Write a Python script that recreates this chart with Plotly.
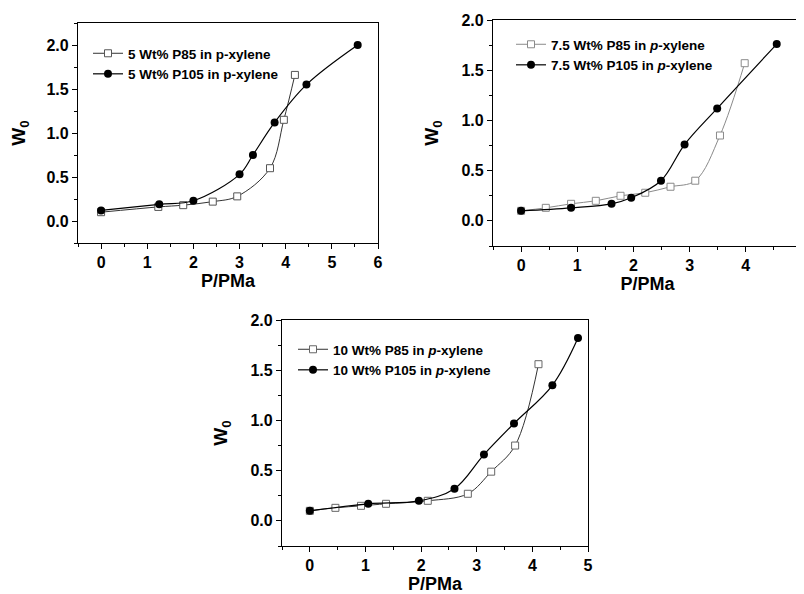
import plotly.graph_objects as go

# ---------------- data ----------------
p1_x85 = [0, 1.24, 1.78, 2.42, 2.95, 3.66, 3.96, 4.2]
p1_y85 = [0.10, 0.16, 0.18, 0.22, 0.28, 0.60, 1.15, 1.66]
p1_x105 = [0, 1.26, 2.0, 3.0, 3.29, 3.76, 4.45, 5.56]
p1_y105 = [0.12, 0.19, 0.23, 0.53, 0.75, 1.12, 1.55, 2.0]

p2_x85 = [0, 0.44, 0.89, 1.33, 1.77, 2.21, 2.66, 3.10, 3.54, 3.98]
p2_y85 = [0.10, 0.13, 0.17, 0.20, 0.25, 0.28, 0.34, 0.40, 0.85, 1.57]
p2_x105 = [0, 0.89, 1.61, 1.96, 2.49, 2.91, 3.49, 4.55]
p2_y105 = [0.10, 0.13, 0.17, 0.23, 0.40, 0.76, 1.12, 1.76]

p3_x85 = [0, 0.46, 0.92, 1.37, 2.12, 2.84, 3.26, 3.69, 4.11]
p3_y85 = [0.10, 0.13, 0.15, 0.17, 0.20, 0.27, 0.49, 0.75, 1.56]
p3_x105 = [0, 1.05, 1.96, 2.60, 3.13, 3.67, 4.36, 4.82]
p3_y105 = [0.10, 0.17, 0.20, 0.32, 0.66, 0.97, 1.35, 1.82]

names = [
    ("5 Wt% P85 in p-xylene", "5 Wt% P105 in p-xylene"),
    ("7.5 Wt% P85 in <i>p</i>-xylene", "7.5 Wt% P105 in <i>p</i>-xylene"),
    ("10 Wt% P85 in <i>p</i>-xylene", "10 Wt% P105 in <i>p</i>-xylene"),
]
x_title = "P/PMa"
y_title = "W<sub>0</sub>"
x_tickvals = [[0, 1, 2, 3, 4, 5, 6], [0, 1, 2, 3, 4, 5], [0, 1, 2, 3, 4, 5]]
y_tickvals = [[0.0, 0.5, 1.0, 1.5, 2.0]] * 3
x_ranges = [[-0.5, 6.0], [-0.5, 5.0], [-0.5, 5.0]]
y_ranges = [[-0.25, 2.25], [-0.25, 2.0], [-0.25, 2.0]]

# page has an 8px body margin -> figure drawn at (8, 8)
OFF = 8
SW, SH = 804, 594
W, H = SW - OFF, SH - OFF
# plot-area boxes in screen pixels (left, right, top, bottom)
boxes = [(78, 378, 23, 243), (493, 802, 20, 246), (282, 588, 320, 546)]
p85_line = ["#333333", "#8a8a8a", "#333333"]
p85_edge = ["#555555", "#8a8a8a", "#666666"]
legend_pos = [(88, 38), (511, 29), (293, 334)]  # screen px, top-left

FONT = "Liberation Sans, Arial, sans-serif"


def px_x(v):
    return (v - OFF) / W


def px_y(v):
    return 1 - (v - OFF) / H


fig = go.Figure()
data = [(p1_x85, p1_y85, p1_x105, p1_y105),
        (p2_x85, p2_y85, p2_x105, p2_y105),
        (p3_x85, p3_y85, p3_x105, p3_y105)]

layout = dict(
    width=W, height=H, margin=dict(l=0, r=0, t=0, b=0, autoexpand=False),
    paper_bgcolor="white", plot_bgcolor="white",
    font=dict(family=FONT, color="black"),
)

for i, (x85, y85, x105, y105) in enumerate(data):
    sfx = "" if i == 0 else str(i + 1)
    xa, ya = "x" + sfx, "y" + sfx
    lg = "legend" + sfx
    fig.add_trace(go.Scatter(
        x=x85, y=y85, name="<b>" + names[i][0] + "</b>", mode="lines+markers",
        line=dict(color=p85_line[i], width=1, shape="spline", smoothing=1.0),
        marker=dict(symbol="square", size=7, color="white",
                    line=dict(color=p85_edge[i], width=1)),
        xaxis=xa, yaxis=ya, legend=lg))
    fig.add_trace(go.Scatter(
        x=x105, y=y105, name="<b>" + names[i][1] + "</b>", mode="lines+markers",
        line=dict(color="black", width=1.2, shape="spline", smoothing=1.0),
        marker=dict(symbol="circle", size=8, color="black",
                    line=dict(color="black", width=0)),
        xaxis=xa, yaxis=ya, legend=lg))

    l, r, t, b = boxes[i]
    common = dict(showline=True, linecolor="black", linewidth=1.3, mirror=True,
                  ticks="outside", ticklen=5, tickwidth=1.2, tickcolor="black",
                  showgrid=False, zeroline=False, automargin=False,
                  tickfont=dict(family=FONT, size=16))
    layout["xaxis" + sfx] = dict(
        common, domain=[px_x(l), px_x(r)], range=x_ranges[i],
        tickmode="array", tickvals=x_tickvals[i],
        ticktext=["<b>%g</b>" % v for v in x_tickvals[i]],
        anchor=ya,
        minor=dict(ticks="outside", ticklen=3, dtick=0.5, tick0=0,
                   tickcolor="black", tickwidth=1),
        title=dict(text="<b>" + x_title + "</b>", font=dict(family=FONT, size=18),
                   standoff=3))
    layout["yaxis" + sfx] = dict(
        common, domain=[px_y(b), px_y(t)], range=y_ranges[i],
        tickmode="array", tickvals=y_tickvals[i],
        ticktext=["<b>%.1f</b>" % v for v in y_tickvals[i]],
        anchor=xa,
        minor=dict(ticks="outside", ticklen=3, dtick=0.25, tick0=0,
                   tickcolor="black", tickwidth=1),
        title=dict(text="<b>" + y_title + "</b>", font=dict(family=FONT, size=19),
                   standoff=17))
    lx, ly = legend_pos[i]
    layout[lg] = dict(x=px_x(lx), y=px_y(ly), xanchor="left", yanchor="top",
                      bgcolor="rgba(0,0,0,0)", borderwidth=0,
                      font=dict(family=FONT, size=13.5),
                      tracegroupgap=0, itemwidth=30)

fig.update_layout(**layout)
fig.write_html("out.html")
